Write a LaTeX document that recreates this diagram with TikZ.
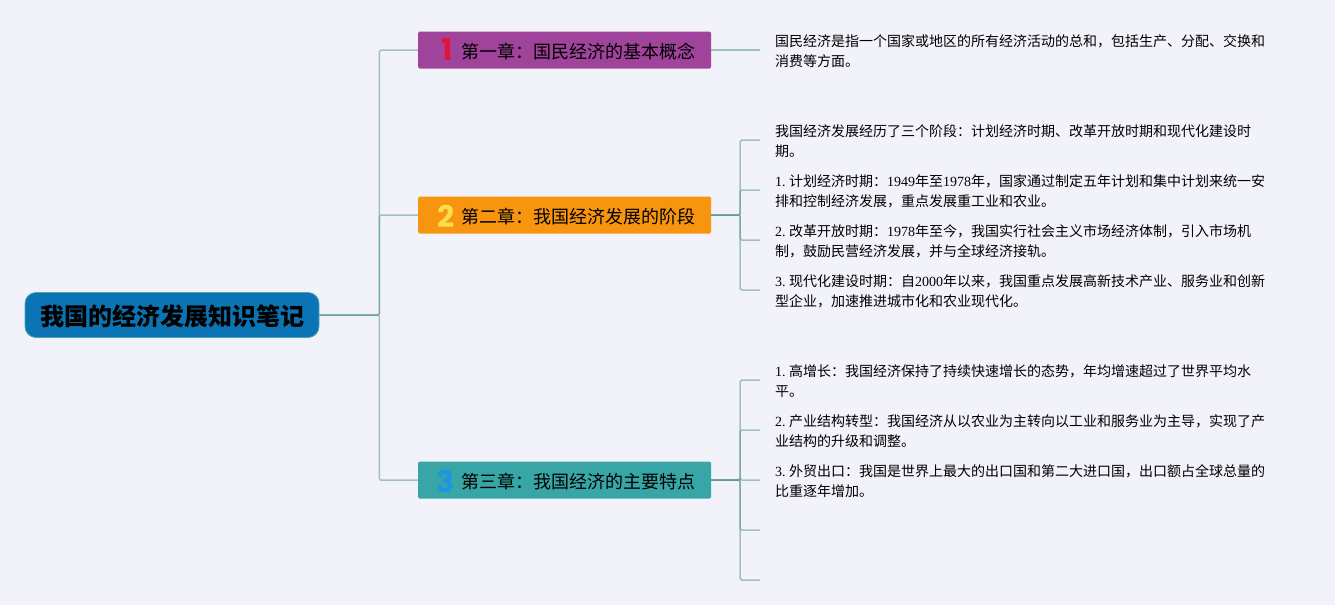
\documentclass[tikz,border=0pt]{standalone}
\usepackage{fontspec}
\setmainfont{Noto Sans CJK SC}
\newfontfamily\latfont{Liberation Serif}
\newfontfamily\numfont{Poppins}
\usetikzlibrary{positioning, calc}
\frenchspacing
\definecolor{pagebg}{HTML}{F2F2FB}
\definecolor{linkC}{HTML}{5E9A94}
\definecolor{rootF}{HTML}{0A74B4}
\definecolor{rootD}{HTML}{4FA3B0}
\definecolor{purpleF}{HTML}{A0439A}
\definecolor{orangeF}{HTML}{F7950F}
\definecolor{tealF}{HTML}{38A6A6}
\definecolor{numA}{HTML}{E2143C}
\definecolor{numB}{HTML}{FBDD4A}
\definecolor{numC}{HTML}{1C96E2}
\newcommand{\lt}[1]{{\latfont #1}}
\newcommand{\chaptext}[1]{\hspace*{28pt}#1}
\tikzset{
  rootbox/.style ={draw=rootD, fill=rootF, rounded corners=11pt, line width=0.8pt,
                   minimum width=294pt, minimum height=45pt, inner sep=0pt,
                   text height=23pt, text depth=1.8pt,
                   font=\fontsize{24}{28}\selectfont\bfseries},
  chapbox/.style ={rounded corners=1.5pt, minimum width=293pt, minimum height=37pt,
                   inner sep=0pt, text height=18pt, text depth=1.4pt,
                   font=\fontsize{18}{22}\selectfont},
  chapnum/.style ={inner sep=0pt, font=\fontsize{30}{30}\numfont\bfseries},
  leaf/.style    ={anchor=west, align=left, inner ysep=0pt, inner xsep=15pt,
                   font=\fontsize{14}{20}\selectfont},
  link/.style    ={draw=linkC, line width=1.5pt, draw opacity=0.55, rounded corners=1.5pt},
}
\begin{document}
\begin{tikzpicture}[x=1pt, y=-1pt]
\fill[pagebg] (0,0) rectangle (1335,605);
\useasboundingbox (0,0) rectangle (1335,605);

% Root and the three chapters
\node[rootbox] (root) at (172,315) {我国的经济发展知识笔记};
\node[chapbox, fill=purpleF] (ch1) at (564.5,50) {\chaptext{第一章：国民经济的基本概念}};
\node[chapbox, fill=orangeF] (ch2) at (564.5,215) {\chaptext{第二章：我国经济发展的阶段}};
\node[chapbox, fill=tealF]   (ch3) at (564.5,480) {\chaptext{第三章：我国经济的主要特点}};
\node[chapnum, text=numA] (num1) at (447,50)  {1};
\node[chapnum, text=numB] (num2) at (446,216) {2};
\node[chapnum, text=numC] (num3) at (446,481) {3};

% Notes on the right
\node[leaf] (a1) at (760,51) {国民经济是指一个国家或地区的所有经济活动的总和，包括生产、分配、交换和\\消费等方面。};
\node[leaf] (b1) at (760,141) {我国经济发展经历了三个阶段：计划经济时期、改革开放时期和现代化建设时\\期。};
\node[leaf] (b2) at (760,191) {\lt{1. }计划经济时期：\lt{1949}年至\lt{1978}年，国家通过制定五年计划和集中计划来统一安\\排和控制经济发展，重点发展重工业和农业。};
\node[leaf] (b3) at (760,241) {\lt{2. }改革开放时期：\lt{1978}年至今，我国实行社会主义市场经济体制，引入市场机\\制，鼓励民营经济发展，并与全球经济接轨。};
\node[leaf] (b4) at (760,291) {\lt{3. }现代化建设时期：自\lt{2000}年以来，我国重点发展高新技术产业、服务业和创新\\型企业，加速推进城市化和农业现代化。};
\node[leaf] (c1) at (760,381) {\lt{1. }高增长：我国经济保持了持续快速增长的态势，年均增速超过了世界平均水\\平。};
\node[leaf] (c2) at (760,431) {\lt{2. }产业结构转型：我国经济从以农业为主转向以工业和服务业为主导，实现了产\\业结构的升级和调整。};
\node[leaf] (c3) at (760,481) {\lt{3. }外贸出口：我国是世界上最大的出口国和第二大进口国，出口额占全球总量的\\比重逐年增加。};
\coordinate (c4) at (760,530);
\coordinate (c5) at (760,580);

% Elbow connectors, they darken where they run on top of each other
\foreach \ch in {ch1, ch2, ch3} {
  \draw[link] (root.east) -- ++(60,0) |- (\ch.west);
}
\draw[link] (ch1.east) -- ([yshift=1pt]a1.west);
\foreach \lf in {b1, b2, b3, b4} {
  \draw[link] (ch2.east) -- ++(29,0) |- ([yshift=1pt]\lf.west);
}
\foreach \lf in {c1, c2, c3} {
  \draw[link] (ch3.east) -- ++(29,0) |- ([yshift=1pt]\lf.west);
}
\foreach \lf in {c4, c5} {
  \draw[link] (ch3.east) -- ++(29,0) |- (\lf);
}
\end{tikzpicture}
\end{document}
